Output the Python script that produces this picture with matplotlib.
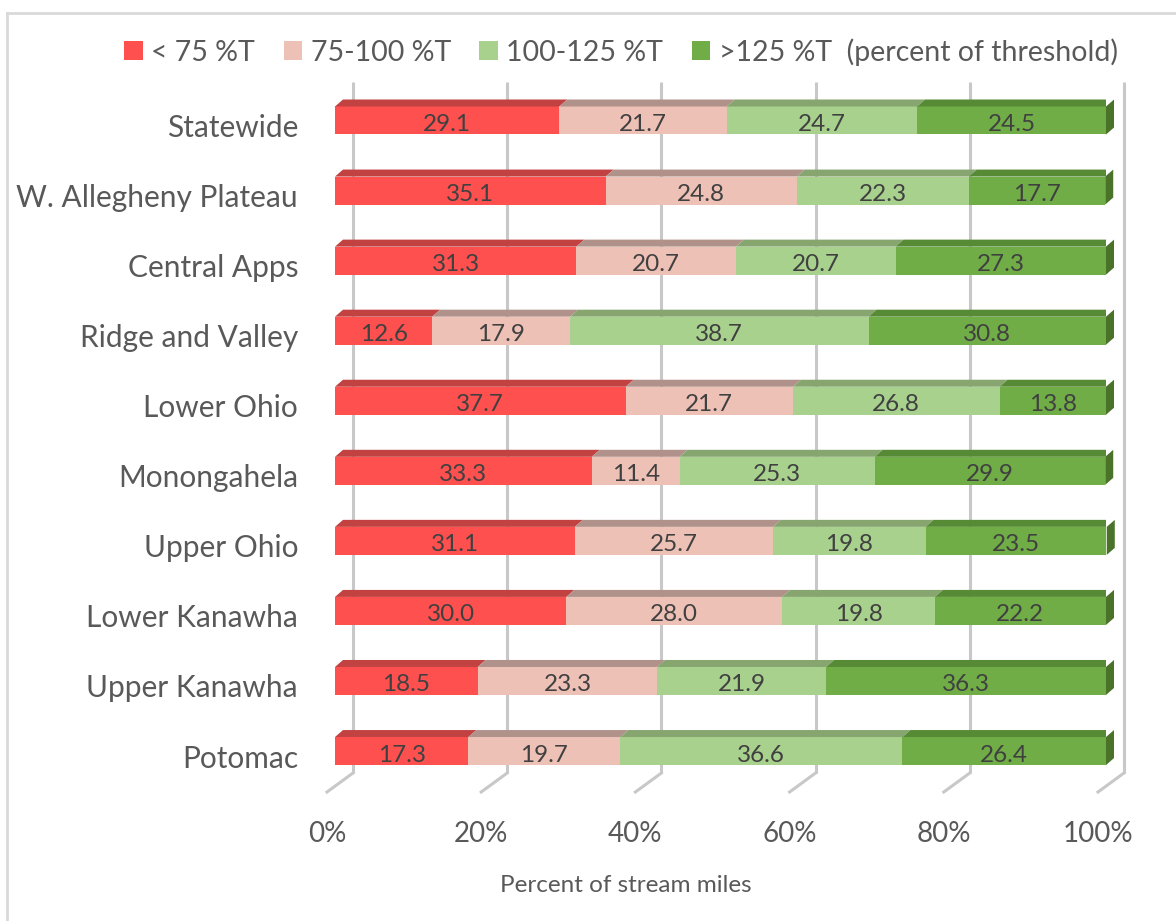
import matplotlib
matplotlib.use("Agg")
import matplotlib.pyplot as plt
import numpy as np
from matplotlib.patches import Patch
from matplotlib.lines import Line2D

plt.rcParams['font.family'] = ['Lato', 'DejaVu Sans']

regions = ["Statewide", "W. Allegheny Plateau", "Central Apps", "Ridge and Valley",
           "Lower Ohio", "Monongahela", "Upper Ohio", "Lower Kanawha",
           "Upper Kanawha", "Potomac"]
below_75 = [29.1, 35.1, 31.3, 12.6, 37.7, 33.3, 31.1, 30.0, 18.5, 17.3]
t75_100 = [21.7, 24.8, 20.7, 17.9, 21.7, 11.4, 25.7, 28.0, 23.3, 19.7]
t100_125 = [24.7, 22.3, 20.7, 38.7, 26.8, 25.3, 19.8, 19.8, 21.9, 36.6]
above_125 = [24.5, 17.7, 27.3, 30.8, 13.8, 29.9, 23.5, 22.2, 36.3, 26.4]
labels = ["< 75 %T", "75-100 %T", "100-125 %T", ">125 %T  (percent of threshold)"]
ticks = [0, 20, 40, 60, 80, 100]

front = ['#FF5050', '#EEC1B7', '#A9D18E', '#70AD47']
top = ['#C24141', '#B0928B', '#86A56F', '#568A35']
side = '#4A7329'
txt = '#595959'

W, H = 1176, 921
fig = plt.figure(figsize=(W / 100, H / 100), dpi=100)

# axes covers the front plane of the chart (pixel geometry)
x0, x1 = 335, 1106
ypx_top, ypx_bot = 60, 800
row0, step = 120.5, 70.06
ax = fig.add_axes([x0 / W, (H - ypx_bot) / H, (x1 - x0) / W, (ypx_bot - ypx_top) / H])
ax.set_xlim(0, 100)
ax.set_ylim((ypx_bot - row0) / step, (ypx_top - row0) / step)
ax.set_axis_off()

pxx = 100 / (x1 - x0)   # % per pixel
pxy = 1 / step          # rows per pixel

# back wall gridlines + floor
gx, fx = 18 * pxx, 8 * pxx
g_top, g_back, g_front = (82 - row0) * pxy, (773 - row0) * pxy, (792 - row0) * pxy
for v in ticks:
    ax.plot([v + gx, v + gx], [g_top, g_back], color='#C8C8C8', lw=2.2, zorder=1,
            solid_capstyle='butt', clip_on=False)
    ax.plot([v + gx, v - fx], [g_back, g_front], color='#C8C8C8', lw=2.2, zorder=1,
            clip_on=False)
    ax.text(v - fx, (842 - row0) * pxy, f"{v}%", ha='center', va='baseline',
            fontsize=20, color=txt, clip_on=False)

ax.text(50 + (626 - 720.5) * pxx, (892 - row0) * pxy, "Percent of stream miles",
        ha='center', va='baseline', fontsize=17.5, color=txt)

# bars
series = np.array([below_75, t75_100, t100_125, above_125])
ypos = np.arange(len(regions))
bh = 28 * pxy
dx, dy = 8 * pxx, 7 * pxy
left = np.zeros(len(regions))
for k in range(4):
    vals = series[k]
    ax.barh(ypos, vals, left=left, height=bh, color=front[k], zorder=3)
    for i in range(len(regions)):
        a, b = left[i], left[i] + vals[i]
        yt = ypos[i] - bh / 2
        ax.fill([a, b, b + dx, a + dx], [yt, yt, yt - dy, yt - dy],
                color=top[k], lw=0, zorder=3)
        ax.text((a + b) / 2, ypos[i] + 10.5 * pxy, f"{vals[i]:.1f}", ha='center',
                va='baseline', fontsize=17.5, color='#404040', zorder=5)
    left = left + vals

for i in range(len(regions)):
    e = left[i]
    yt, yb = ypos[i] - bh / 2, ypos[i] + bh / 2
    ax.fill([e, e + dx, e + dx, e], [yt, yt - dy, yb - dy, yb], color=side, lw=0,
            zorder=3, clip_on=False)
    ax.text((298 - x0) * pxx, ypos[i] + 16.5 * pxy, regions[i], ha='right',
            va='baseline', fontsize=21.5, color=txt, clip_on=False)

handles = [Patch(facecolor=c, edgecolor='none') for c in front]
fig.legend(handles, labels, ncol=4, loc='center', bbox_to_anchor=(621 / W, 1 - 52 / H),
           frameon=False, fontsize=20.5, labelcolor=txt, handlelength=0.65,
           handleheight=0.65, handletextpad=0.3, columnspacing=1.0)

# chart-area border
fig.add_artist(Line2D([7 / W, 7 / W], [0, 1 - 13 / H], color='#D9D9D9', lw=2))
fig.add_artist(Line2D([7 / W, 1], [1 - 13 / H, 1 - 13 / H], color='#D9D9D9', lw=2))

fig.savefig("out.png", dpi=100)
